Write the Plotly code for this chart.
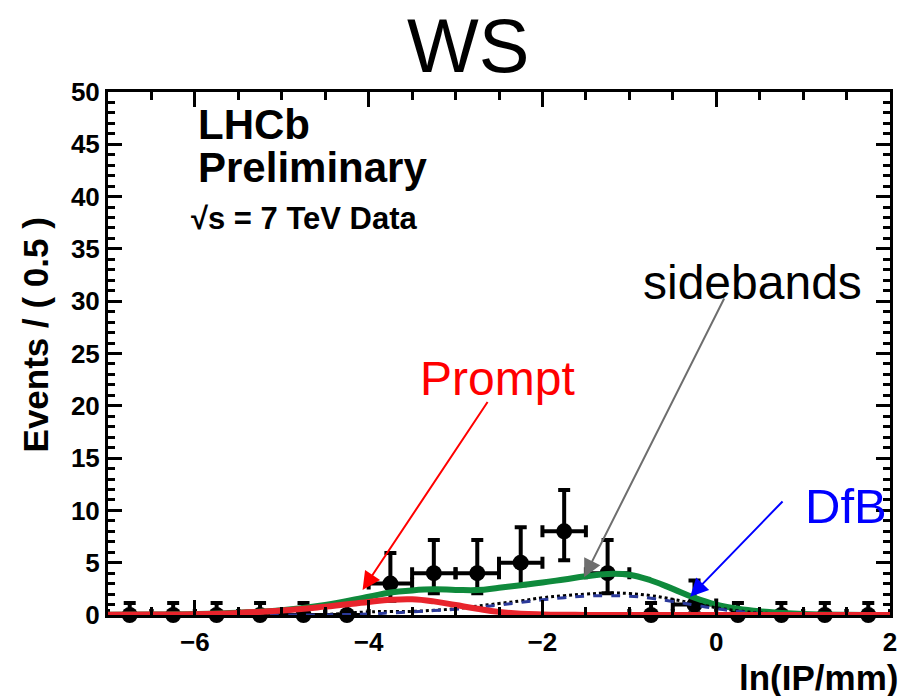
import plotly.graph_objects as go

# Binned data: ln(IP/mm) bin centres (bin width 0.5) and event counts
bin_centers = [-6.75, -6.25, -5.75, -5.25, -4.75, -4.25, -3.75, -3.25, -2.75,
               -2.25, -1.75, -1.25, -0.75, -0.25, 0.25, 0.75, 1.25, 1.75]
counts = [0, 0, 0, 0, 0, 0, 3, 4, 4, 5, 8, 4, 0, 1, 0, 0, 0, 0]
# Asymmetric Poisson errors on the counts
err_up = [1.15, 1.15, 1.15, 1.15, 1.15, 1.15, 2.92, 3.16, 3.16,
          3.38, 3.94, 3.16, 1.15, 2.30, 1.15, 1.15, 1.15, 1.15]
err_down = [0, 0, 0, 0, 0, 0, 1.63, 1.91, 1.91,
            2.16, 2.77, 1.91, 0, 0.83, 0, 0, 0, 0]
half_bin = [0.25] * len(bin_centers)

# Fit projections sampled along ln(IP/mm)
curve_x = [-7.0, -6.5, -6.0, -5.5, -5.0, -4.5, -4.0, -3.75, -3.5, -3.25, -3.0,
           -2.75, -2.5, -2.25, -2.0, -1.75, -1.5, -1.25, -1.0, -0.75, -0.5,
           -0.25, 0.0, 0.25, 0.5, 0.75, 1.0, 1.5, 2.0]
total_fit = [0.02, 0.05, 0.1, 0.22, 0.45, 0.95, 1.75, 2.15, 2.35, 2.45, 2.4,
             2.38, 2.6, 2.85, 3.1, 3.4, 3.7, 3.93, 3.85, 3.3, 2.5,
             1.65, 1.0, 0.6, 0.35, 0.2, 0.1, 0.03, 0.01]
prompt_fit = [0.02, 0.04, 0.08, 0.2, 0.42, 0.8, 1.25, 1.45, 1.5, 1.3, 0.95,
              0.6, 0.3, 0.12, 0.05, 0.02, 0.01, 0.0, 0.0, 0.0, 0.0,
              0.0, 0.0, 0.0, 0.0, 0.0, 0.0, 0.0, 0.0]
dfb_fit = [0.0, 0.0, 0.0, 0.0, 0.0, 0.02, 0.1, 0.2, 0.3, 0.42, 0.55,
           0.75, 0.95, 1.2, 1.45, 1.65, 1.8, 1.85, 1.8, 1.6, 1.3,
           0.95, 0.6, 0.35, 0.15, 0.07, 0.03, 0.0, 0.0]
bkg_fit = [0.0, 0.0, 0.0, 0.0, 0.0, 0.05, 0.3, 0.33, 0.35, 0.45, 0.6,
           0.85, 1.1, 1.35, 1.65, 1.85, 2.0, 2.1, 2.05, 1.85, 1.5,
           1.1, 0.7, 0.4, 0.2, 0.1, 0.04, 0.0, 0.0]

x_ticks = [-6, -4, -2, 0, 2]
y_ticks = [0, 5, 10, 15, 20, 25, 30, 35, 40, 45, 50]

FONT = "Liberation Sans, Arial, sans-serif"

fig = go.Figure()

# Data first, fit curves drawn over it
fig.add_trace(go.Scatter(
    x=bin_centers, y=counts, mode="markers",
    marker=dict(color="black", size=16, symbol="circle"),
    error_y=dict(type="data", symmetric=False, array=err_up, arrayminus=err_down,
                 color="black", thickness=4, width=6),
    error_x=dict(type="data", array=half_bin, color="black", thickness=4, width=6),
    cliponaxis=False, showlegend=False,
))
fig.add_trace(go.Scatter(
    x=curve_x, y=total_fit, mode="lines",
    line=dict(color="#0f8a3c", width=6, shape="spline", smoothing=1.2),
    showlegend=False,
))
fig.add_trace(go.Scatter(
    x=curve_x, y=bkg_fit, mode="lines",
    line=dict(color="black", width=3, dash="dot", shape="spline", smoothing=1.2),
    showlegend=False,
))
fig.add_trace(go.Scatter(
    x=curve_x, y=dfb_fit, mode="lines",
    line=dict(color="#2b3a9a", width=3, dash="dash", shape="spline", smoothing=1.2),
    showlegend=False,
))
fig.add_trace(go.Scatter(
    x=curve_x, y=prompt_fit, mode="lines",
    line=dict(color="#e8242c", width=6, shape="spline", smoothing=1.2),
    showlegend=False,
))

axis_common = dict(
    showline=True, linecolor="black", linewidth=3, mirror="ticks",
    ticks="inside", tickcolor="black", tickwidth=3,
    showgrid=False, zeroline=False,
    tickfont=dict(family=FONT, size=26, color="black", weight="bold"),
)

fig.update_xaxes(
    range=[-7, 2], tickmode="array", tickvals=x_ticks, ticklen=15,
    minor=dict(ticks="inside", dtick=0.5, tick0=0, ticklen=8, tickwidth=3, tickcolor="black"),
    ticklabelstandoff=2,
    **axis_common,
)
fig.update_yaxes(
    range=[0, 50], tickmode="array", tickvals=y_ticks, ticklen=14,
    minor=dict(ticks="inside", dtick=1, tick0=0, ticklen=7, tickwidth=3, tickcolor="black"),
    ticklabelstandoff=0,
    **axis_common,
)

annotations = [
    dict(text="WS", xref="paper", yref="paper", x=0.46, y=1.0, yshift=47,
         xanchor="center", yanchor="middle", showarrow=False,
         font=dict(family=FONT, size=76, color="black")),
    dict(text="Events / ( 0.5 )", xref="paper", yref="paper", x=-0.093, y=0.535,
         xanchor="center", yanchor="middle", textangle=-90, showarrow=False,
         font=dict(family=FONT, size=35, color="black", weight="bold")),
    dict(text="ln(IP/mm)", xref="paper", yref="paper", x=1.0, y=-0.12, xshift=10,
         xanchor="right", yanchor="middle", showarrow=False,
         font=dict(family=FONT, size=35, color="black", weight="bold")),
    dict(text="LHCb", xref="paper", yref="paper", x=0.112, y=0.938,
         xanchor="left", yanchor="middle", showarrow=False,
         font=dict(family=FONT, size=42, color="black", weight="bold")),
    dict(text="Preliminary", xref="paper", yref="paper", x=0.112, y=0.856,
         xanchor="left", yanchor="middle", showarrow=False,
         font=dict(family=FONT, size=42, color="black", weight="bold")),
    dict(text="\u221as = 7 TeV Data", xref="paper", yref="paper", x=0.104, y=0.758,
         xanchor="left", yanchor="middle", showarrow=False,
         font=dict(family=FONT, size=31, color="black", weight="bold")),
    # Component labels with arrows
    dict(text="Prompt", x=-2.52, y=22.6, xref="x", yref="y", showarrow=False,
         font=dict(family=FONT, size=48, color="#ff0000")),
    dict(text="", x=-4.07, y=2.4, ax=-2.62, ay=20.5, xref="x", yref="y",
         axref="x", ayref="y", showarrow=True, arrowhead=2, arrowsize=1.8,
         arrowwidth=2, arrowcolor="#ff0000", standoff=0),
    dict(text="sidebands", x=0.42, y=31.8, xref="x", yref="y", showarrow=False,
         font=dict(family=FONT, size=48, color="black")),
    dict(text="", x=-1.52, y=3.6, ax=0.1, ay=30.4, xref="x", yref="y",
         axref="x", ayref="y", showarrow=True, arrowhead=2, arrowsize=1.8,
         arrowwidth=2, arrowcolor="#6e6e6e", standoff=0),
    dict(text="DfB", x=1.49, y=10.4, xref="x", yref="y", showarrow=False,
         font=dict(family=FONT, size=49, color="#0000ff")),
    dict(text="", x=-0.3, y=1.75, ax=0.78, ay=11.0, xref="x", yref="y",
         axref="x", ayref="y", showarrow=True, arrowhead=2, arrowsize=1.8,
         arrowwidth=2, arrowcolor="#0000ff", standoff=0),
]

fig.update_layout(
    width=906, height=696,
    margin=dict(l=108, r=9, t=92, b=81),
    paper_bgcolor="white", plot_bgcolor="white",
    annotations=annotations,
    showlegend=False,
)

fig.write_html("out.html")
